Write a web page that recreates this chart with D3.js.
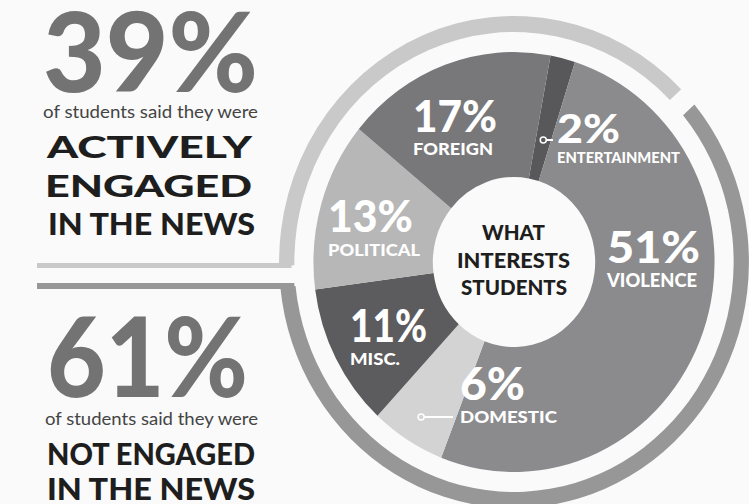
<!DOCTYPE html>
<meta charset="utf-8">
<head>
<script src="https://cdn.jsdelivr.net/npm/d3@7"></script>
<style>
body { margin: 0; background: #fafafa; }
svg { display: block; }
text { font-family: "Lato", "Open Sans", sans-serif; }
</style>
</head>
<body>
<div id="chart"></div>
<script>

// what interests students, clockwise from the top
var topics = ["ENTERTAINMENT", "VIOLENCE", "DOMESTIC", "MISC.", "POLITICAL", "FOREIGN"];
var topicPct = [2, 51, 6, 11, 13, 17];
var topicFill = ["#58585a", "#8b8b8d", "#d3d3d3", "#5c5c5e", "#b7b7b7", "#78787a"];

// engaged vs not engaged (outer ring)
var engageLabels = ["ACTIVELY ENGAGED", "NOT ENGAGED"];
var engagePct = [39, 61];
var engageFill = ["#c9c9c9", "#979797"];

var width = 749, height = 504;
var cx = 514, cy = 262, squash = 0.955;
var deg = Math.PI / 180;

var svg = d3.select("#chart").append("svg")
    .attr("width", width)
    .attr("height", height);

svg.append("rect").attr("width", width).attr("height", height).attr("fill", "#fafafa");

// ---- donut + ring (slightly squashed horizontally like the print)
var g = svg.append("g")
    .attr("transform", "translate(" + cx + "," + cy + ") scale(" + squash + ",1)");

var ringPie = d3.pie().sort(null)
    .startAngle(-93.4 * deg)
    .endAngle(266.6 * deg)
    .padAngle(3.5 * deg);
var ringArc = d3.arc().innerRadius(230).outerRadius(246);

g.selectAll(".ring")
    .data(ringPie(engagePct))
    .enter().append("path")
    .attr("class", "ring")
    .attr("d", ringArc)
    .attr("fill", function(d, i) { return engageFill[i]; });

var pie = d3.pie().sort(null)
    .startAngle(10.5 * deg)
    .endAngle(370.5 * deg);
var arc = d3.arc().innerRadius(85).outerRadius(210);
var slices = pie(topicPct);

g.selectAll(".slice")
    .data(slices)
    .enter().append("path")
    .attr("class", "slice")
    .attr("d", arc)
    .attr("fill", function(d, i) { return topicFill[i]; });

// connector lines going left from the ring ends
svg.append("line").attr("x1", 37).attr("x2", cx - squash * 233).attr("y1", 265.5).attr("y2", 265.5)
    .attr("stroke", engageFill[0]).attr("stroke-width", 5);
svg.append("line").attr("x1", 37).attr("x2", cx - squash * 230).attr("y1", 286).attr("y2", 286)
    .attr("stroke", engageFill[1]).attr("stroke-width", 6);

function txt(x, y, s, size, weight, fill, len, anchor) {
  var t = svg.append("text")
      .attr("x", x).attr("y", y)
      .attr("font-size", size)
      .attr("font-weight", weight)
      .attr("fill", fill)
      .attr("text-anchor", anchor || "start")
      .text(s);
  if (len) t.attr("textLength", len).attr("lengthAdjust", "spacingAndGlyphs");
  return t;
}

// ---- left side text
txt(43, 92, engagePct[0] + "%", 110, 900, "#737373", 215);
txt(43, 118, "of students said they were", 17.5, 400, "#444", 215);
txt(47, 158, "ACTIVELY", 31, 900, "#1e1e1e", 205);
txt(45, 197, "ENGAGED", 31, 900, "#1e1e1e", 207);
txt(48, 235, "IN THE NEWS", 31, 900, "#1e1e1e", 207);

txt(47, 397, engagePct[1] + "%", 110, 900, "#737373", 201);
txt(45, 425, "of students said they were", 17.5, 400, "#444", 213);
txt(47, 465, "NOT ENGAGED", 31, 900, "#1e1e1e", 208);
txt(47, 500, "IN THE NEWS", 31, 900, "#1e1e1e", 208);

// ---- slice labels: [x, pct baseline, pct size, pct width, name baseline, name size, name width]
var labelPos = [
  [557, 143, 40, 63, 163, 14.5, 123],
  [607, 263, 44, 93, 287, 18.5, 90],
  [460, 400, 45, 65, 423, 17.5, 97],
  [350, 342, 45, 77, 365, 16.5, 50],
  [328, 232, 44, 85, 256, 16, 92],
  [413, 132, 44, 84, 155, 17, 80]
];
topics.forEach(function(name, i) {
  var p = labelPos[i];
  txt(p[0], p[1], topicPct[i] + "%", p[2], 900, "#fff", p[3]);
  txt(p[0], p[4], name, p[5], 900, "#fff", p[6]);
});

// leader markers for the thin slices, placed on the slice's mid angle
function leader(i, y, xEnd) {
  var s = slices[i];
  var a = (s.startAngle + s.endAngle) / 2;
  var r = (cy - y) / Math.cos(a);
  var x = cx + squash * r * Math.sin(a);
  svg.append("line").attr("x1", x).attr("x2", xEnd).attr("y1", y).attr("y2", y)
      .attr("stroke", "#fff").attr("stroke-width", 2);
  svg.append("circle").attr("cx", x).attr("cy", y).attr("r", 3)
      .attr("fill", topicFill[i]).attr("stroke", "#fff").attr("stroke-width", 1.5);
}
leader(0, 140, 553);
leader(2, 417, 453);

// ---- centre
txt(513.5, 240, "WHAT", 21, 900, "#1e1e1e", 63, "middle");
txt(513.5, 268, "INTERESTS", 21, 900, "#1e1e1e", 113, "middle");
txt(514, 295, "STUDENTS", 21, 900, "#1e1e1e", 106, "middle");

</script>
</body>
